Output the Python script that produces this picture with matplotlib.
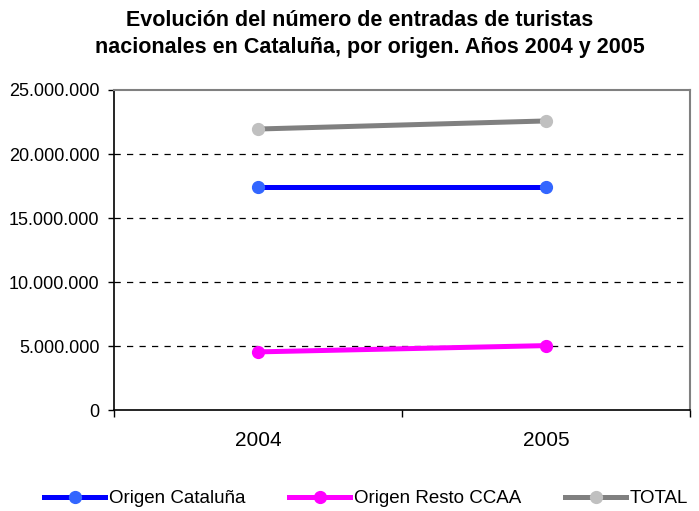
import numpy as np
import matplotlib.pyplot as plt
from matplotlib.ticker import FuncFormatter

plt.rcParams['font.family'] = ['Liberation Sans', 'DejaVu Sans']

years = ['2004', '2005']
cataluna = [17400000, 17400000]
resto = [4560000, 5050000]
total = [21950000, 22580000]

fig = plt.figure(figsize=(6.99, 5.11), dpi=100)
ax = fig.add_axes([0.163, 0.197, 0.824, 0.627])

x = np.arange(len(years))
ax.plot(x, cataluna, color='#0000FF', lw=3.6, marker='o', ms=8.5,
        mfc='#3366FF', mec='#3366FF', label='Origen Cataluña', zorder=3)
ax.plot(x, resto, color='#FF00FF', lw=3.6, marker='o', ms=8.5,
        mfc='#FF00FF', mec='#FF00FF', label='Origen Resto CCAA', zorder=3)
ax.plot(x, total, color='#808080', lw=3.6, marker='o', ms=8.5,
        mfc='#C0C0C0', mec='#C0C0C0', label='TOTAL', zorder=3)

ax.set_xlim(-0.5, 1.5)
ax.set_ylim(0, 25000000)
ax.set_yticks(np.arange(0, 25000001, 5000000))
ax.yaxis.set_major_formatter(FuncFormatter(lambda v, p: f'{int(v):,}'.replace(',', '.')))
for yv in range(5000000, 25000000, 5000000):
    ax.axhline(yv, color='black', lw=0.9, ls=(0, (5, 5)), zorder=1)

ax.set_xticks([-0.5, 0.5, 1.5])
ax.set_xticklabels([])
ax.set_xticks(x, minor=True)
ax.set_xticklabels(years, minor=True, fontsize=15)
ax.tick_params(axis='x', which='minor', length=0, pad=15)
ax.tick_params(axis='x', which='major', length=5, width=1, direction='out')
ax.tick_params(axis='y', length=4.5, width=1, direction='out', labelsize=13, pad=6)

ax.spines['top'].set_color('#808080')
ax.spines['right'].set_color('#808080')
ax.spines['top'].set_linewidth(1.5)
ax.spines['right'].set_linewidth(1.5)
ax.spines['left'].set_linewidth(1.2)
ax.spines['bottom'].set_linewidth(1.2)

fig.text(0.515, 0.96, 'Evolución del número de entradas de turistas',
         ha='center', va='center', fontsize=15.5, fontweight='bold')
fig.text(0.136, 0.908, 'nacionales en Cataluña, por origen. Años 2004 y 2005',
         ha='left', va='center', fontsize=15.5, fontweight='bold')

fig.legend(loc='lower center', bbox_to_anchor=(0.524, 0.0), bbox_transform=fig.transFigure,
           ncol=3, frameon=False, fontsize=13.5, handlelength=3.25,
           handletextpad=0.2, columnspacing=2.35, borderpad=0.2, borderaxespad=0)

fig.savefig('out.png', dpi=100)
